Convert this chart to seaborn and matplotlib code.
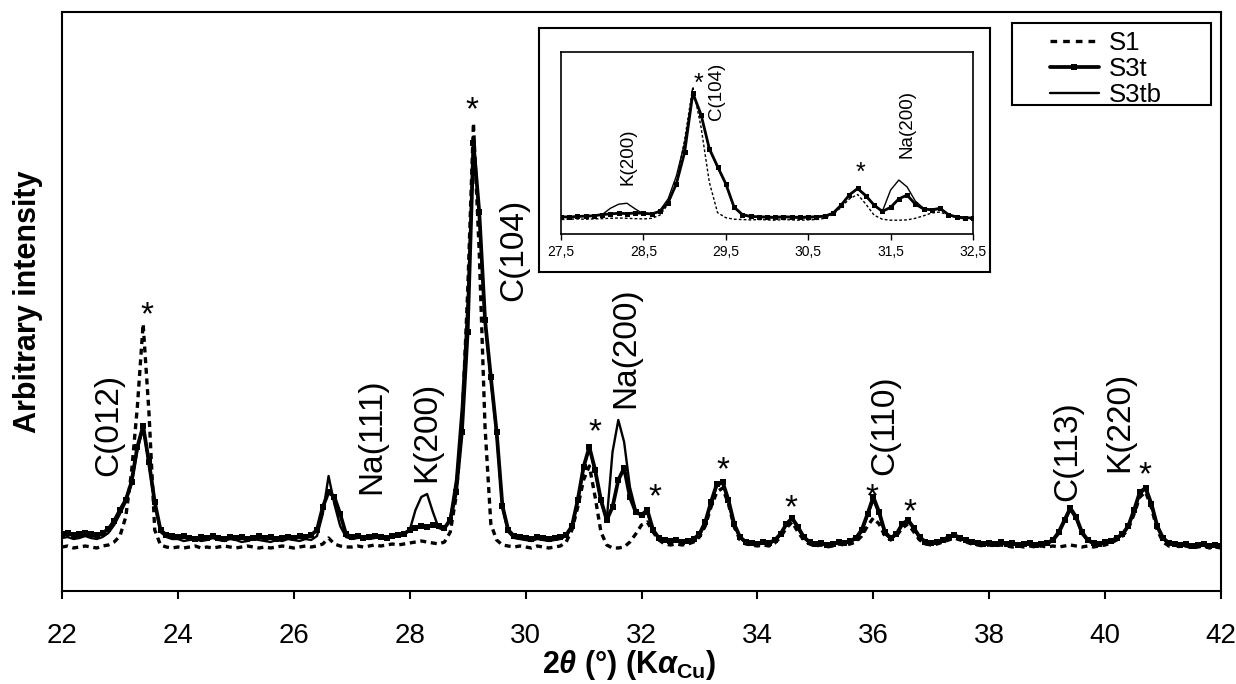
import numpy as np
import matplotlib
matplotlib.use("Agg")
import matplotlib.pyplot as plt
from matplotlib.patches import Rectangle
import seaborn as sns

# scan positions, 2theta in degrees (0.1 step)
two_theta = np.round(np.arange(22.0, 42.05, 0.1), 1)

# intensities (arbitrary units)
s1 = [
    45, 46, 44, 45, 46, 45, 44, 46, 47, 50,
    56, 75, 120, 185, 268, 180, 62, 47, 45, 44,
    45, 44, 45, 46, 44, 45, 44, 45, 46, 45,
    44, 45, 46, 45, 44, 45, 44, 45, 46, 45,
    44, 45, 46, 45, 46, 48, 54, 48, 46, 45,
    45, 46, 45, 46, 47, 46, 47, 48, 47, 48,
    49, 50, 51, 50, 49, 48, 50, 60, 95, 165,
    300, 469, 340, 165, 68, 52, 47, 46, 45, 46,
    45, 44, 46, 45, 44, 45, 46, 50, 62, 85,
    112, 126, 95, 60, 47, 44, 44, 45, 50, 58,
    67, 70, 60, 52, 48, 47, 48, 47, 48, 50,
    55, 66, 85, 100, 104, 88, 65, 52, 48, 47,
    46, 47, 46, 49, 55, 64, 70, 60, 52, 48,
    46, 47, 45, 46, 48, 47, 48, 50, 56, 66,
    74, 68, 56, 52, 56, 64, 68, 60, 52, 48,
    47, 48, 50, 52, 54, 52, 50, 48, 47, 46,
    47, 46, 47, 46, 45, 46, 45, 46, 45, 46,
    45, 46, 45, 46, 47, 46, 45, 46, 45, 46,
    47, 49, 52, 56, 63, 78, 95, 100, 84, 62,
    50, 46, 47, 45, 46, 44, 45, 46, 44, 45,
    44,
]

s3t = [
    58, 59, 57, 58, 59, 58, 57, 59, 63, 71,
    82, 92, 110, 145, 166, 130, 90, 62, 57, 56,
    55, 56, 54, 53, 55, 54, 56, 54, 53, 55,
    54, 55, 53, 54, 56, 54, 55, 53, 54, 55,
    54, 56, 55, 57, 62, 85, 100, 95, 78, 58,
    55, 56, 54, 55, 56, 55, 54, 56, 57, 58,
    62, 64, 66, 65, 67, 66, 64, 72, 100, 160,
    260, 449, 380, 272, 215, 160, 86, 62, 56, 55,
    54, 53, 55, 54, 53, 54, 55, 57, 66, 92,
    125, 145, 122, 92, 72, 85, 112, 124, 95, 80,
    77, 82, 62, 54, 52, 51, 52, 50, 51, 53,
    58, 70, 90, 108, 110, 92, 68, 55, 50, 49,
    48, 50, 49, 52, 58, 68, 74, 65, 55, 50,
    48, 49, 47, 48, 50, 49, 51, 54, 62, 78,
    95, 80, 60, 54, 58, 68, 72, 64, 55, 50,
    49, 50, 52, 55, 57, 54, 52, 50, 49, 48,
    49, 48, 50, 48, 49, 47, 48, 49, 47, 48,
    49, 52, 60, 72, 84, 75, 60, 52, 49, 48,
    50, 51, 54, 58, 66, 82, 100, 104, 88, 66,
    54, 49, 48, 47, 48, 46, 47, 48, 46, 47,
    46,
]

s3tb = [
    54, 55, 53, 54, 56, 54, 53, 55, 59, 67,
    78, 90, 108, 142, 164, 128, 88, 60, 55, 53,
    53, 51, 52, 53, 51, 52, 54, 52, 51, 53,
    52, 50, 51, 53, 52, 51, 50, 52, 51, 53,
    52, 51, 53, 52, 56, 78, 116, 88, 66, 55,
    53, 54, 55, 53, 54, 55, 54, 56, 57, 58,
    62, 82, 95, 98, 80, 64, 62, 75, 112, 185,
    290, 449, 378, 270, 212, 158, 84, 60, 54, 53,
    52, 51, 53, 52, 51, 52, 53, 56, 64, 90,
    124, 144, 120, 90, 72, 140, 172, 150, 105, 82,
    76, 79, 62, 54, 52, 50, 51, 50, 51, 52,
    56, 68, 88, 106, 109, 90, 66, 54, 49, 48,
    47, 49, 48, 51, 57, 67, 73, 63, 54, 49,
    47, 48, 46, 47, 49, 48, 50, 53, 60, 76,
    92, 78, 58, 53, 57, 67, 71, 63, 54, 49,
    48, 49, 51, 54, 56, 53, 51, 49, 48, 47,
    48, 47, 49, 47, 48, 46, 47, 48, 46, 47,
    48, 51, 58, 70, 82, 73, 58, 51, 48, 47,
    49, 50, 53, 57, 65, 80, 98, 103, 86, 64,
    53, 48, 47, 46, 47, 45, 46, 47, 45, 46,
    45,
]

main_ticks = [22, 24, 26, 28, 30, 32, 34, 36, 38, 40, 42]
inset_ticks = [27.5, 28.5, 29.5, 30.5, 31.5, 32.5]
inset_tick_labels = ["27,5", "28,5", "29,5", "30,5", "31,5", "32,5"]

# reflection labels (text, 2theta, height)
peak_labels = [
    ("C(012)", 22.81, 167), ("Na(111)", 27.34, 156), ("K(200)", 28.30, 160),
    ("C(104)", 29.80, 342), ("Na(200)", 31.73, 244), ("C(110)", 36.20, 167),
    ("C(113)", 39.36, 141), ("K(220)", 40.26, 170),
]
star_pos = [
    (23.46, 268), (29.08, 473), (31.19, 151), (32.23, 86), (33.40, 113),
    (34.58, 75), (35.98, 86), (36.64, 71), (40.69, 108),
]
inset_labels = [("K(200)", 28.31, 245), ("C(104)", 29.39, 456), ("Na(200)", 31.70, 351)]
inset_stars = [(29.17, 455), (31.14, 172)]

sns.set_theme(style="ticks")
plt.rcParams['font.family'] = ['Liberation Sans', 'DejaVu Sans']
plt.rcParams['text.color'] = 'black'
plt.rcParams['axes.labelcolor'] = 'black'
plt.rcParams['xtick.color'] = 'black'
plt.rcParams['xtick.labelcolor'] = 'black'
plt.rcParams['mathtext.fontset'] = 'custom'
plt.rcParams['mathtext.rm'] = 'Liberation Sans:bold'
plt.rcParams['mathtext.it'] = 'Liberation Sans:italic:bold'
plt.rcParams['mathtext.bf'] = 'Liberation Sans:bold'

W, H = 1236, 684
fig = plt.figure(figsize=(W / 100, H / 100), dpi=100)
fig.patch.set_facecolor('white')

ax = fig.add_axes([62 / W, 1 - 591 / H, (1221 - 62) / W, (591 - 12) / H])
ax.set_facecolor('white')

dots = (0, (1.8, 1.4))
sns.lineplot(x=two_theta, y=s3t, ax=ax, color='black', linewidth=2.7, marker='s',
             markersize=4.6, markeredgewidth=0, label='S3t', zorder=3)
sns.lineplot(x=two_theta, y=s3tb, ax=ax, color='black', linewidth=1.7, label='S3tb', zorder=4)
sns.lineplot(x=two_theta, y=s1, ax=ax, color='black', linewidth=2.4, linestyle=dots,
             label='S1', zorder=5)

ax.set_xlim(22, 42)
ax.set_ylim(1, 580)
ax.set_xticks(main_ticks)
ax.set_yticks([])
ax.tick_params(axis='x', direction='out', length=6, width=1.5, labelsize=20, pad=17,
               color='black', labelcolor='black')
for sp in ax.spines.values():
    sp.set_visible(True)
    sp.set_color('black')
    sp.set_linewidth(1.5)

ax.set_ylabel('Arbitrary intensity', fontsize=22, fontweight='bold', color='black')
ax.yaxis.set_label_coords(-0.016, 0.5)
ax.set_xlabel(r'2$\theta$ (°) (K$\alpha_{\mathrm{Cu}}$)', fontsize=22, fontweight='bold',
              color='black')
ax.xaxis.set_label_coords(0.489, -0.098)

for txt, x, y in peak_labels:
    ax.text(x, y, txt, rotation=90, ha='center', va='center', fontsize=24, color='black')
for x, y in star_pos:
    ax.text(x, y, '*', ha='center', va='baseline', fontsize=24, color='black')

# legend with a wide Excel-style box
handles, labels = ax.get_legend_handles_labels()
order = [labels.index(l) for l in ['S1', 'S3t', 'S3tb']]
leg = ax.legend([handles[i] for i in order], [labels[i] for i in order],
                loc='upper left', bbox_to_anchor=((1050 - 62) / 1159, (591 - 31) / 579),
                frameon=False, borderpad=0, borderaxespad=0, fontsize=18.5,
                handlelength=1.9, handletextpad=0.4, labelspacing=0.07)
leg.set_zorder(8)
leg.get_lines()[0].set_linestyle((0, (2.0, 1.8)))
for t in leg.get_texts():
    t.set_color('black')
ax.add_patch(Rectangle(((1012 - 62) / 1159, (591 - 105) / 579), (1211 - 1012) / 1159,
                       (105 - 23) / 579, transform=ax.transAxes, facecolor='white',
                       edgecolor='black', linewidth=1.5, zorder=7, clip_on=False))

# inset frame and inset
frame = fig.add_axes([539 / W, 1 - 272 / H, (990 - 539) / W, (272 - 28) / H])
frame.set_facecolor('white')
frame.set_xticks([])
frame.set_yticks([])
for sp in frame.spines.values():
    sp.set_color('black')
    sp.set_linewidth(1.5)

axi = fig.add_axes([561 / W, 1 - 234 / H, (973 - 561) / W, (234 - 52) / H])
axi.set_facecolor('white')
sns.lineplot(x=two_theta, y=s3t, ax=axi, color='black', linewidth=2.0, marker='s',
             markersize=3.6, markeredgewidth=0, zorder=3)
sns.lineplot(x=two_theta, y=s3tb, ax=axi, color='black', linewidth=1.0, zorder=4)
sns.lineplot(x=two_theta, y=s1, ax=axi, color='black', linewidth=1.0, linestyle=(0, (2, 1.5)),
             zorder=5)
axi.set_xlim(27.5, 32.5)
axi.set_ylim(0, 580)
axi.set_xticks(inset_ticks)
axi.set_xticklabels(inset_tick_labels)
axi.set_yticks([])
axi.tick_params(axis='x', direction='out', length=4, width=1, labelsize=10, pad=4,
                color='black', labelcolor='black')
for sp in axi.spines.values():
    sp.set_visible(True)
    sp.set_color('black')
    sp.set_linewidth(1.2)
for txt, x, y in inset_labels:
    axi.text(x, y, txt, rotation=90, ha='center', va='center', fontsize=13.5, color='black')
for x, y in inset_stars:
    axi.text(x, y, '*', ha='center', va='baseline', fontsize=18, color='black')

fig.savefig('out.png', dpi=100)
